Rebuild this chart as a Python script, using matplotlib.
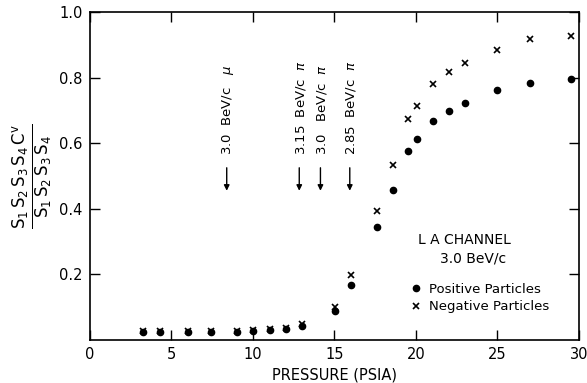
import matplotlib
matplotlib.use("Agg")
import matplotlib.pyplot as plt

pressure = [3.25, 4.3, 6.0, 7.45, 9.0, 10.0, 11.05, 12.05, 13.0, 15.05, 16.05,
            17.6, 18.6, 19.55, 20.05, 21.05, 22.05, 23.0, 25.0, 27.0, 29.5]
positive = [0.025, 0.025, 0.025, 0.025, 0.026, 0.027, 0.030, 0.035, 0.042, 0.090, 0.168,
            0.346, 0.458, 0.575, 0.614, 0.667, 0.697, 0.723, 0.763, 0.782, 0.794]
negative = [0.027, 0.027, 0.027, 0.027, 0.028, 0.030, 0.034, 0.038, 0.050, 0.100, 0.198,
            0.394, 0.532, 0.675, 0.714, 0.779, 0.816, 0.845, 0.885, 0.916, 0.926]

# threshold markers
thresholds = [8.4, 12.85, 14.15, 15.95]
threshold_labels = [r"3.0  BeV/c   $\mu$", r"3.15  BeV/c  $\pi$",
                    r"3.0   BeV/c  $\pi$", r"2.85  BeV/c  $\pi$"]

xticks = [0, 5, 10, 15, 20, 25, 30]
yticks = [0.2, 0.4, 0.6, 0.8, 1.0]

plt.rcParams["font.family"] = ["DejaVu Sans"]
plt.rcParams["mathtext.fontset"] = "dejavusans"

fig = plt.figure(figsize=(5.87, 3.83), dpi=100)
ax = fig.add_axes([0.153, 0.112, 0.833, 0.857])

ax.plot(pressure, positive, linestyle="none", marker="o", markersize=4.5,
        color="black", label="Positive Particles")
ax.plot(pressure, negative, linestyle="none", marker="x", markersize=5,
        markeredgewidth=1.2, color="black", label="Negative Particles")

for x, lab in zip(thresholds, threshold_labels):
    ax.annotate("", xy=(x, 0.455), xytext=(x, 0.525),
                arrowprops=dict(arrowstyle="-|>", color="black", lw=1.0,
                                mutation_scale=8, shrinkA=0, shrinkB=0))
    ax.text(x + 0.1, 0.565, lab, rotation=90, ha="center", va="bottom", fontsize=9.5)

ax.text(23.0, 0.305, "L A CHANNEL", ha="center", va="center", fontsize=10)
ax.text(23.5, 0.25, "3.0 BeV/c", ha="center", va="center", fontsize=10)
ax.legend(loc="lower left", bbox_to_anchor=(0.645, 0.065), frameon=False,
          fontsize=9.5, handlelength=0.8, handletextpad=0.6, labelspacing=0.35,
          borderaxespad=0)

ax.set_xlim(0, 30)
ax.set_ylim(0, 1.0)
ax.set_xticks(xticks)
ax.set_yticks(yticks)
ax.set_yticklabels([f"{v:.1f}" for v in yticks])
ax.tick_params(direction="in", length=7, width=1.0, top=True, right=True,
               labelsize=10.5, pad=5)
for s in ax.spines.values():
    s.set_linewidth(1.2)

ax.set_xlabel("PRESSURE (PSIA)", fontsize=10.5, labelpad=4)
ax.set_ylabel(r"$\frac{\mathrm{S_1\,S_2\,S_3\,S_4\,C^v}}{\mathrm{S_1\,S_2\,S_3\,S_4}}$",
              fontsize=17, labelpad=4)

fig.savefig("out.png", dpi=100)
